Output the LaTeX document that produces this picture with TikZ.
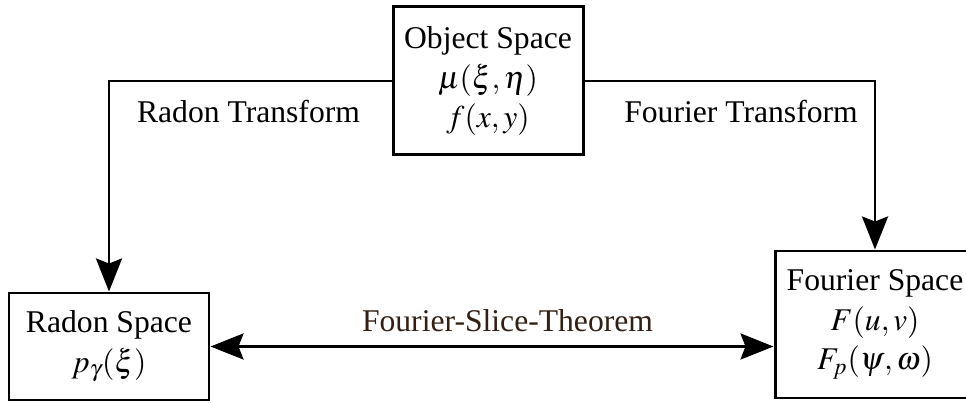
\documentclass[tikz,border=0pt]{standalone}
\usepackage{mathptmx}
\usepackage{fontspec}
\setmainfont{Liberation Serif}
\usepackage{xcolor}
\usetikzlibrary{arrows.meta}
\definecolor{slicebrown}{rgb}{0.2,0.12,0.08}

\begin{document}
\begin{tikzpicture}[
    box/.style={draw, line width=1.7pt, align=center, inner sep=0pt},
    tip/.tip={Stealth[length=6.6mm, width=5.2mm, inset=1mm]},
    flow/.style={line width=1.6pt, -tip},
    font=\fontsize{18}{22.5}\selectfont]
    \useasboundingbox (0,0) rectangle (19.32,8.06);
    % Object space on top
    \node[box, minimum width=3.8cm, minimum height=2.96cm] (object) at (9.76,6.44)
        {Object Space\\ $\mu(\xi,\eta)$\\ $f(x,y)$};
    % Radon space, bottom left
    \node[box, minimum width=4.0cm, minimum height=2.14cm] (radon) at (2.18,1.13)
        {Radon Space\\ $p_\gamma(\xi)$};
    % Fourier space, bottom right
    \node[box, minimum width=4.0cm, minimum height=2.94cm] (fourier) at (17.5,1.57)
        {Fourier Space\\ $F(u,v)$\\ $F_p(\psi,\omega)$};
    % Transforms
    \draw[flow] (object.west) -| (radon.north);
    \draw[flow] (object.east) -| (fourier.north);
    \node[anchor=base] (radonlabel) at (4.97,5.6) {Radon Transform};
    \node[anchor=base] (fourierlabel) at (14.82,5.6) {Fourier Transform};
    % Slice theorem
    \draw[flow, tip-tip] (radon.east) -- (radon.east -| fourier.west);
    \node[anchor=base, text=slicebrown] (slicelabel) at (10.15,1.42) {Fourier-Slice-Theorem};
\end{tikzpicture}
\end{document}
